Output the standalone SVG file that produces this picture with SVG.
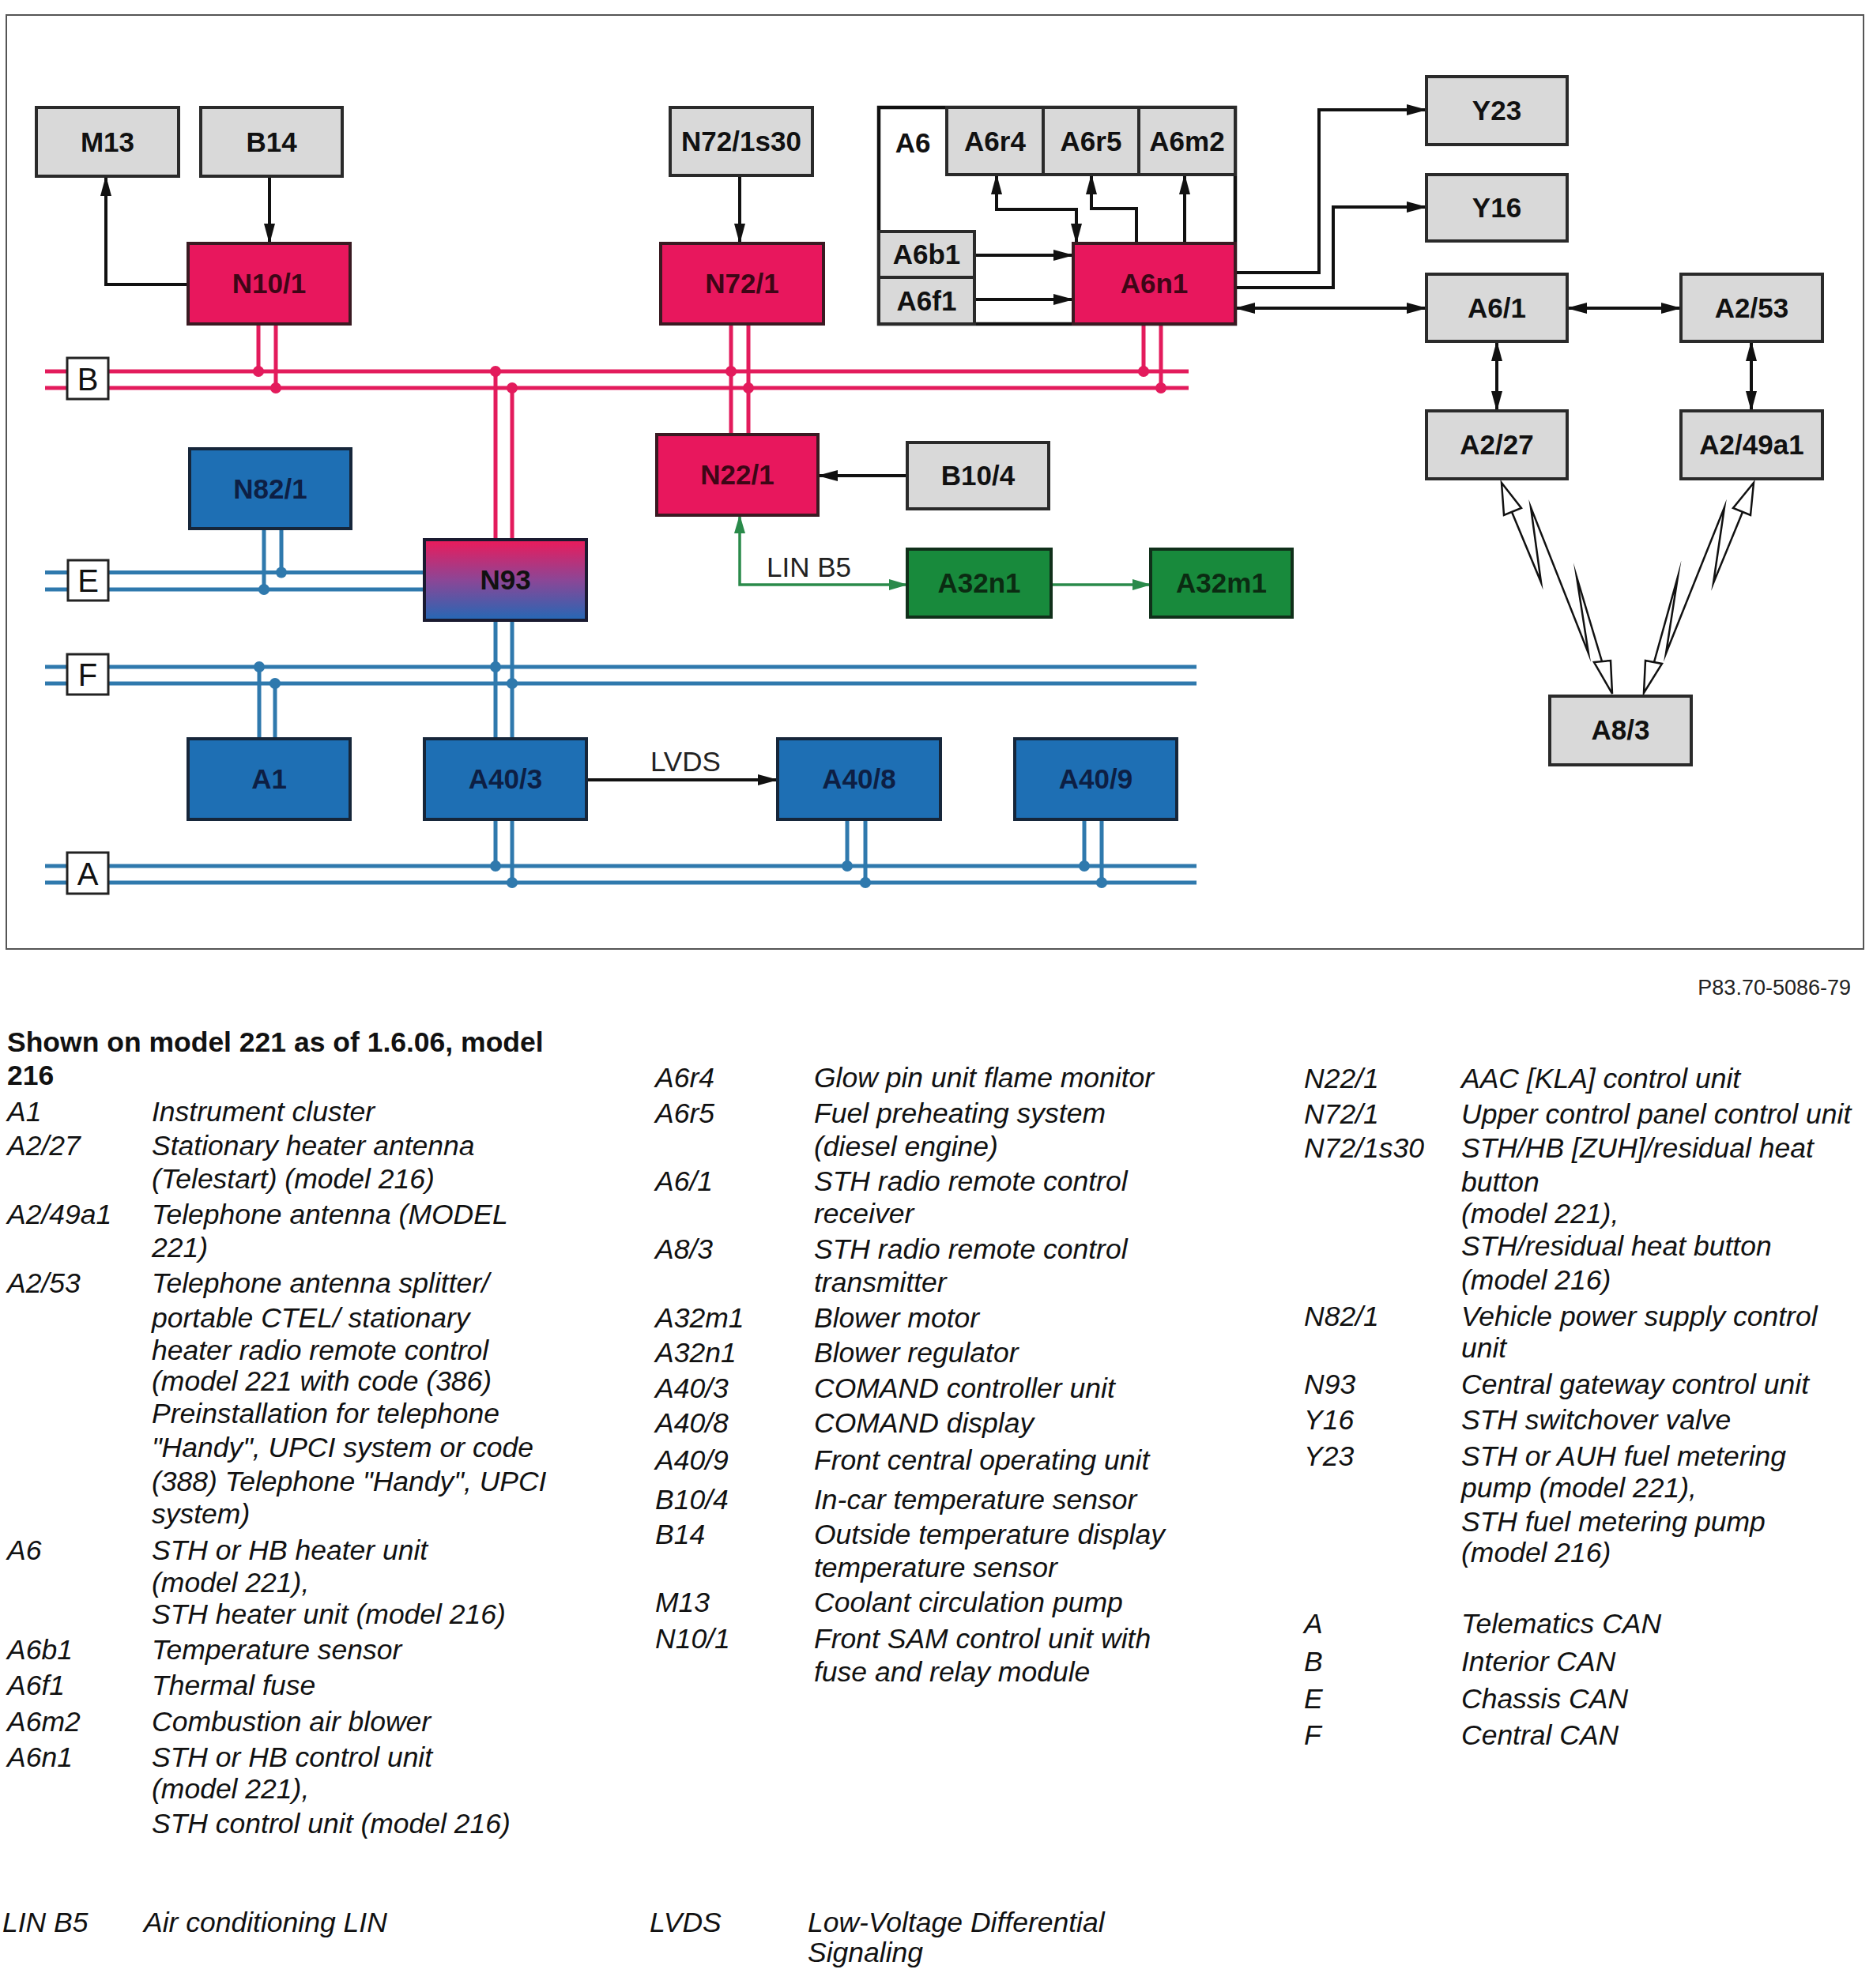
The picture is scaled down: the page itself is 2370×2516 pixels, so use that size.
<svg xmlns="http://www.w3.org/2000/svg" width="2370" height="2516" viewBox="0 0 2370 2516">
<style>
.frame{fill:#fff;stroke:#555;stroke-width:2}
.gray{fill:#d9d9d9;stroke:#2a2a2a;stroke-width:4}
.pink{fill:#e8175d;stroke:#3a1a22;stroke-width:4}
.blue{fill:#1e6fb4;stroke:#16263a;stroke-width:4}
.green{fill:#188a3c;stroke:#10301a;stroke-width:4}
.cont{fill:none;stroke:#111;stroke-width:4.5}
.lbl{font-family:"Liberation Sans",Arial,sans-serif;font-weight:bold;font-size:35px;text-anchor:middle;fill:#111}
.lp{fill:#3d0616}
.lb{fill:#0d1f44}
.lg{fill:#0b2b12}
.bus-p{stroke:#e31b5c;stroke-width:5;fill:none}
.bus-b{stroke:#2f79ad;stroke-width:5;fill:none}
.dp{fill:#e31b5c}
.db{fill:#2f79ad}
.busbox{fill:#fff;stroke:#222;stroke-width:3}
.buslbl{font-family:"Liberation Sans",Arial,sans-serif;font-size:40px;text-anchor:middle;fill:#111}
.ar{stroke:#111;stroke-width:4;fill:none;marker-end:url(#ah)}
.ar2{stroke:#111;stroke-width:4;fill:none;marker-start:url(#ah);marker-end:url(#ah)}
.gr{stroke:#2a8a4a;stroke-width:3.5;fill:none;marker-end:url(#gh)}
.gr2{stroke:#2a8a4a;stroke-width:3.5;fill:none;marker-start:url(#gh);marker-end:url(#gh)}
.bolt{stroke:#111;stroke-width:2.5;fill:none;stroke-linejoin:miter;stroke-miterlimit:40}
.bhead{stroke:#111;stroke-width:2.5;fill:#fff}
.note{font-family:"Liberation Sans",Arial,sans-serif;font-size:35px;fill:#222}
.ref{font-family:"Liberation Sans",Arial,sans-serif;font-size:27px;fill:#222;text-anchor:end}
.leg{font-family:"Liberation Sans",Arial,sans-serif;font-size:35.5px;font-style:italic;fill:#111}
.title{font-family:"Liberation Sans",Arial,sans-serif;font-size:35.5px;font-weight:bold;fill:#111}
</style>
<defs>
<marker id="ah" viewBox="0 0 26 14" refX="25" refY="7" markerWidth="26" markerHeight="14" markerUnits="userSpaceOnUse" orient="auto-start-reverse"><path d="M0,0 L26,7 L0,14 z" fill="#111"/></marker>
<marker id="gh" viewBox="0 0 24 14" refX="23" refY="7" markerWidth="24" markerHeight="14" markerUnits="userSpaceOnUse" orient="auto-start-reverse"><path d="M0,0 L24,7 L0,14 z" fill="#2a8a4a"/></marker>
<linearGradient id="n93g" x1="0" y1="0" x2="0" y2="1"><stop offset="0" stop-color="#ec1a5a"/><stop offset="0.5" stop-color="#8c4696"/><stop offset="1" stop-color="#2468b5"/></linearGradient>
</defs>
<rect width="2370" height="2516" fill="#fff"/>
<rect class="frame" x="8" y="19" width="2350" height="1182"/>

<g id="buses">
<path class="bus-p" d="M57,470 H1504 M57,491 H1504"/>
<path class="bus-b" d="M57,724.5 H537 M57,746 H537"/>
<path class="bus-b" d="M57,844 H1514 M57,865 H1514"/>
<path class="bus-b" d="M57,1096 H1514 M57,1117 H1514"/>
</g>

<g id="connectors">
<path class="bus-p" d="M327,410 V470 M349,410 V491"/>
<path class="bus-p" d="M627,470 V683 M648,491 V683"/>
<path class="bus-p" d="M925,410 V550 M947,410 V550"/>
<path class="bus-p" d="M1447,410 V470 M1469,410 V491"/>
<path class="bus-b" d="M334,669 V746 M356,669 V724.5"/>
<path class="bus-b" d="M328,844 V935 M348,865 V935"/>
<path class="bus-b" d="M627,785 V935 M648,785 V935"/>
<path class="bus-b" d="M627,1037 V1096 M648,1037 V1117"/>
<path class="bus-b" d="M1072,1037 V1096 M1095,1037 V1117"/>
<path class="bus-b" d="M1372,1037 V1096 M1394,1037 V1117"/>
<g class="dp"><circle cx="327" cy="470" r="7"/><circle cx="349" cy="491" r="7"/><circle cx="627" cy="470" r="7"/><circle cx="648" cy="491" r="7"/><circle cx="925" cy="470" r="7"/><circle cx="947" cy="491" r="7"/><circle cx="1447" cy="470" r="7"/><circle cx="1469" cy="491" r="7"/></g>
<g class="db"><circle cx="356" cy="724.5" r="7"/><circle cx="334" cy="746" r="7"/><circle cx="328" cy="844" r="7"/><circle cx="348" cy="865" r="7"/><circle cx="627" cy="844" r="7"/><circle cx="648" cy="865" r="7"/><circle cx="627" cy="1096" r="7"/><circle cx="648" cy="1117" r="7"/><circle cx="1072" cy="1096" r="7"/><circle cx="1095" cy="1117" r="7"/><circle cx="1372" cy="1096" r="7"/><circle cx="1394" cy="1117" r="7"/></g>

<path class="ar" d="M341,223 V308"/>
<path class="ar" d="M238,360 H134 V223"/>
<path class="ar" d="M936,222 V308"/>
<path class="ar" d="M1148,602 H1035"/>
<path class="ar" d="M742,987 H984"/>
<path class="ar" d="M1233,323 H1358"/>
<path class="ar" d="M1233,379 H1358"/>
<path class="ar2" d="M1261,221 V265 H1362 V308"/>
<path class="ar" d="M1438,308 V264 H1381 V221"/>
<path class="ar" d="M1499,308 V221"/>
<path class="ar" d="M1563,345 H1669 V139 H1805"/>
<path class="ar" d="M1563,364 H1687 V262 H1805"/>
<path class="ar2" d="M1563,390 H1805"/>
<path class="ar2" d="M1983,390 H2127"/>
<path class="ar2" d="M1894,432 V520"/>
<path class="ar2" d="M2216,432 V520"/>
<path class="gr2" d="M936,652 V740 H1148"/>
<path class="gr" d="M1330,740 H1456"/>

<path class="bolt" d="M1913,648 L1950,737 L1937,642 L2010,827 L1995,730 L2027,837"/>
<polygon class="bhead" points="1900,611 1903,652 1925,643"/>
<polygon class="bhead" points="2040,878 2017,838 2038,836"/>
<path class="bolt" d="M2205,648 L2168,738 L2182,642 L2108,827 L2123,730 L2093,838"/>
<polygon class="bhead" points="2219,611 2215,652 2193,643"/>
<polygon class="bhead" points="2080,877 2082,836 2103,840"/>
<text class="note" x="970" y="730">LIN B5</text>
<text class="note" x="823" y="976">LVDS</text>
</g>

<g id="bus-labels">
<g id="bus-B"><rect class="busbox" x="85" y="453" width="52" height="52"/><text class="buslbl" x="111" y="494">B</text></g>
<g id="bus-E"><rect class="busbox" x="86" y="709" width="51" height="51"/><text class="buslbl" x="111.5" y="749">E</text></g>
<g id="bus-F"><rect class="busbox" x="85" y="828" width="52" height="51"/><text class="buslbl" x="111" y="868">F</text></g>
<g id="bus-A"><rect class="busbox" x="85" y="1079" width="52" height="52"/><text class="buslbl" x="111" y="1120">A</text></g>
</g>

<g id="M13"><rect class="gray" x="46" y="136" width="180" height="87"/><text class="lbl" x="136" y="192">M13</text></g>
<g id="B14"><rect class="gray" x="254" y="136" width="179" height="87"/><text class="lbl" x="343.5" y="192">B14</text></g>
<g id="N10_1"><rect class="pink" x="238" y="308" width="205" height="102"/><text class="lbl lp" x="340.5" y="371">N10/1</text></g>
<g id="N82_1"><rect class="blue" x="240" y="568" width="204" height="101"/><text class="lbl lb" x="342" y="631">N82/1</text></g>
<g id="N93"><rect x="537" y="683" width="205" height="102" fill="url(#n93g)" stroke="#1a1a30" stroke-width="4"/><text class="lbl" x="639.5" y="746" fill="#1a1040">N93</text></g>
<g id="A1"><rect class="blue" x="238" y="935" width="205" height="102"/><text class="lbl lb" x="340.5" y="998">A1</text></g>
<g id="A40_3"><rect class="blue" x="537" y="935" width="205" height="102"/><text class="lbl lb" x="639.5" y="998">A40/3</text></g>
<g id="A40_8"><rect class="blue" x="984" y="935" width="206" height="102"/><text class="lbl lb" x="1087" y="998">A40/8</text></g>
<g id="A40_9"><rect class="blue" x="1284" y="935" width="205" height="102"/><text class="lbl lb" x="1386.5" y="998">A40/9</text></g>
<g id="N72_1s30"><rect class="gray" x="848" y="136" width="180" height="86"/><text class="lbl" x="938" y="191">N72/1s30</text></g>
<g id="N72_1"><rect class="pink" x="836" y="308" width="206" height="102"/><text class="lbl lp" x="939" y="371">N72/1</text></g>
<g id="N22_1"><rect class="pink" x="831" y="550" width="204" height="102"/><text class="lbl lp" x="933" y="613">N22/1</text></g>
<g id="B10_4"><rect class="gray" x="1148" y="560" width="179" height="84"/><text class="lbl" x="1237.5" y="614">B10/4</text></g>
<g id="A32n1"><rect class="green" x="1148" y="695" width="182" height="86"/><text class="lbl lg" x="1239" y="750">A32n1</text></g>
<g id="A32m1"><rect class="green" x="1456" y="695" width="179" height="86"/><text class="lbl lg" x="1545.5" y="750">A32m1</text></g>

<g id="A6">
<rect class="cont" x="1112" y="136" width="451" height="274"/>
<text class="lbl" x="1155" y="193">A6</text>
<g id="A6r4"><rect class="gray" x="1198" y="136" width="122" height="85"/><text class="lbl" x="1259" y="191">A6r4</text></g>
<g id="A6r5"><rect class="gray" x="1320" y="136" width="121" height="85"/><text class="lbl" x="1380.5" y="191">A6r5</text></g>
<g id="A6m2"><rect class="gray" x="1441" y="136" width="122" height="85"/><text class="lbl" x="1502" y="191">A6m2</text></g>
<g id="A6b1"><rect class="gray" x="1112" y="293" width="121" height="58"/><text class="lbl" x="1172.5" y="334">A6b1</text></g>
<g id="A6f1"><rect class="gray" x="1112" y="351" width="121" height="59"/><text class="lbl" x="1172.5" y="393">A6f1</text></g>
<g id="A6n1"><rect class="pink" x="1358" y="308" width="205" height="102"/><text class="lbl lp" x="1460.5" y="371">A6n1</text></g>
</g>

<g id="Y23"><rect class="gray" x="1805" y="97" width="178" height="86"/><text class="lbl" x="1894" y="152">Y23</text></g>
<g id="Y16"><rect class="gray" x="1805" y="221" width="178" height="84"/><text class="lbl" x="1894" y="275">Y16</text></g>
<g id="A6_1"><rect class="gray" x="1805" y="347" width="178" height="85"/><text class="lbl" x="1894" y="402">A6/1</text></g>
<g id="A2_53"><rect class="gray" x="2127" y="347" width="179" height="85"/><text class="lbl" x="2216.5" y="402">A2/53</text></g>
<g id="A2_27"><rect class="gray" x="1805" y="520" width="178" height="86"/><text class="lbl" x="1894" y="575">A2/27</text></g>
<g id="A2_49a1"><rect class="gray" x="2127" y="520" width="179" height="86"/><text class="lbl" x="2216.5" y="575">A2/49a1</text></g>
<g id="A8_3"><rect class="gray" x="1961" y="881" width="179" height="87"/><text class="lbl" x="2050.5" y="936">A8/3</text></g>

<text class="ref" x="2342" y="1259">P83.70-5086-79</text>

<g id="legend">
<text class="title" x="9" y="1331">Shown on model 221 as of 1.6.06, model</text>
<text class="title" x="9" y="1373">216</text>
<g class="leg">
<text x="9" y="1419">A1</text><text x="192" y="1419">Instrument cluster</text>
<text x="9" y="1462">A2/27</text><text x="192" y="1462">Stationary heater antenna</text><text x="192" y="1504">(Telestart) (model 216)</text>
<text x="9" y="1549">A2/49a1</text><text x="192" y="1549">Telephone antenna (MODEL</text><text x="192" y="1591">221)</text>
<text x="9" y="1636">A2/53</text><text x="192" y="1636">Telephone antenna splitter/</text><text x="192" y="1680">portable CTEL/ stationary</text><text x="192" y="1721">heater radio remote control</text><text x="192" y="1760">(model 221 with code (386)</text><text x="192" y="1801">Preinstallation for telephone</text><text x="192" y="1844">"Handy", UPCI system or code</text><text x="192" y="1887">(388) Telephone "Handy", UPCI</text><text x="192" y="1928">system)</text>
<text x="9" y="1974">A6</text><text x="192" y="1974">STH or HB heater unit</text><text x="192" y="2015">(model 221),</text><text x="192" y="2055">STH heater unit (model 216)</text>
<text x="9" y="2100">A6b1</text><text x="192" y="2100">Temperature sensor</text>
<text x="9" y="2145">A6f1</text><text x="192" y="2145">Thermal fuse</text>
<text x="9" y="2191">A6m2</text><text x="192" y="2191">Combustion air blower</text>
<text x="9" y="2236">A6n1</text><text x="192" y="2236">STH or HB control unit</text><text x="192" y="2276">(model 221),</text><text x="192" y="2320">STH control unit (model 216)</text>
<text x="3" y="2445">LIN B5</text><text x="182" y="2445">Air conditioning LIN</text>

<text x="829" y="1376">A6r4</text><text x="1030" y="1376">Glow pin unit flame monitor</text>
<text x="829" y="1421">A6r5</text><text x="1030" y="1421">Fuel preheating system</text><text x="1030" y="1463">(diesel engine)</text>
<text x="829" y="1507">A6/1</text><text x="1030" y="1507">STH radio remote control</text><text x="1030" y="1548">receiver</text>
<text x="829" y="1593">A8/3</text><text x="1030" y="1593">STH radio remote control</text><text x="1030" y="1635">transmitter</text>
<text x="829" y="1680">A32m1</text><text x="1030" y="1680">Blower motor</text>
<text x="829" y="1724">A32n1</text><text x="1030" y="1724">Blower regulator</text>
<text x="829" y="1769">A40/3</text><text x="1030" y="1769">COMAND controller unit</text>
<text x="829" y="1813">A40/8</text><text x="1030" y="1813">COMAND display</text>
<text x="829" y="1860">A40/9</text><text x="1030" y="1860">Front central operating unit</text>
<text x="829" y="1910">B10/4</text><text x="1030" y="1910">In-car temperature sensor</text>
<text x="829" y="1954">B14</text><text x="1030" y="1954">Outside temperature display</text><text x="1030" y="1996">temperature sensor</text>
<text x="829" y="2040">M13</text><text x="1030" y="2040">Coolant circulation pump</text>
<text x="829" y="2086">N10/1</text><text x="1030" y="2086">Front SAM control unit with</text><text x="1030" y="2128">fuse and relay module</text>
<text x="822" y="2445">LVDS</text><text x="1022" y="2445">Low-Voltage Differential</text><text x="1022" y="2483">Signaling</text>

<text x="1650" y="1377">N22/1</text><text x="1849" y="1377">AAC [KLA] control unit</text>
<text x="1650" y="1422">N72/1</text><text x="1849" y="1422">Upper control panel control unit</text>
<text x="1650" y="1465">N72/1s30</text><text x="1849" y="1465">STH/HB [ZUH]/residual heat</text><text x="1849" y="1508">button</text><text x="1849" y="1548">(model 221),</text><text x="1849" y="1589">STH/residual heat button</text><text x="1849" y="1632">(model 216)</text>
<text x="1650" y="1678">N82/1</text><text x="1849" y="1678">Vehicle power supply control</text><text x="1849" y="1718">unit</text>
<text x="1650" y="1764">N93</text><text x="1849" y="1764">Central gateway control unit</text>
<text x="1650" y="1809">Y16</text><text x="1849" y="1809">STH switchover valve</text>
<text x="1650" y="1855">Y23</text><text x="1849" y="1855">STH or AUH fuel metering</text><text x="1849" y="1895">pump (model 221),</text><text x="1849" y="1938">STH fuel metering pump</text><text x="1849" y="1977">(model 216)</text>
<text x="1650" y="2067">A</text><text x="1849" y="2067">Telematics CAN</text>
<text x="1650" y="2115">B</text><text x="1849" y="2115">Interior CAN</text>
<text x="1650" y="2162">E</text><text x="1849" y="2162">Chassis CAN</text>
<text x="1650" y="2208">F</text><text x="1849" y="2208">Central CAN</text>
</g>
</g>
</svg>
